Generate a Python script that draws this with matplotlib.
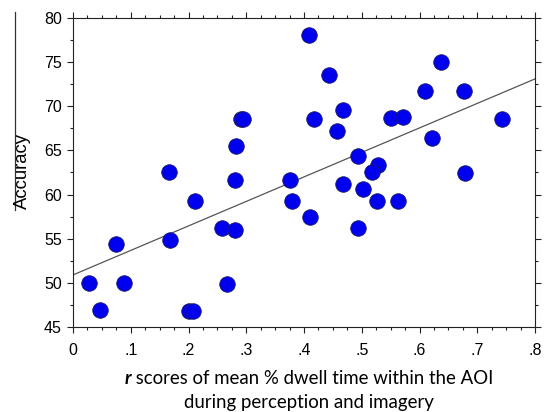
import numpy as np
import matplotlib
matplotlib.use("Agg")
import matplotlib.pyplot as plt
from matplotlib.ticker import MultipleLocator, FixedLocator, FixedFormatter

plt.rcParams["font.family"] = ["Liberation Sans", "DejaVu Sans"]

# r scores (x) and accuracy (y)
r_scores = [0.028, 0.047, 0.075, 0.088, 0.166, 0.168, 0.211, 0.200, 0.208,
            0.258, 0.280, 0.266, 0.280, 0.283, 0.291, 0.295,
            0.408, 0.444, 0.418, 0.468, 0.457, 0.493, 0.528, 0.518,
            0.375, 0.468, 0.502, 0.551, 0.571, 0.609, 0.638, 0.677,
            0.622, 0.679, 0.743, 0.380, 0.411, 0.493, 0.526, 0.563]
accuracy = [50.0, 46.9, 54.4, 50.0, 62.5, 54.8, 59.3, 46.8, 46.8,
            56.2, 56.0, 49.9, 61.7, 65.5, 68.6, 68.6,
            78.1, 73.5, 68.6, 69.6, 67.2, 64.4, 63.3, 62.5,
            61.7, 61.2, 60.6, 68.7, 68.8, 71.7, 75.0, 71.7,
            66.4, 62.4, 68.6, 59.3, 57.5, 56.2, 59.3, 59.3]

# fitted line as drawn (intercept, slope)
fit_intercept = 50.9
fit_slope = 27.75

x_ticks = [0, 0.1, 0.2, 0.3, 0.4, 0.5, 0.6, 0.7, 0.8]
x_ticklabels = ["0", ".1", ".2", ".3", ".4", ".5", ".6", ".7", ".8"]
y_ticks = [45, 50, 55, 60, 65, 70, 75, 80]

fig = plt.figure(figsize=(5.49, 4.12), dpi=100)
ax = fig.add_axes([73 / 549, 1 - 327 / 412, (535 - 73) / 549, (327 - 18) / 412])

xs = np.array([0, 0.8])
ax.plot(xs, fit_intercept + fit_slope * xs, color="#555555", lw=0.9, zorder=2)
ax.scatter(r_scores, accuracy, s=125, c="#0000ee", edgecolors="#1a1a66",
           linewidths=0.6, zorder=3)

ax.set_xlim(0, 0.8)
ax.set_ylim(45, 80)
ax.xaxis.set_major_locator(FixedLocator(x_ticks))
ax.xaxis.set_major_formatter(FixedFormatter(x_ticklabels))
ax.xaxis.set_minor_locator(MultipleLocator(0.025))
ax.yaxis.set_major_locator(FixedLocator(y_ticks))
ax.yaxis.set_minor_locator(MultipleLocator(2.5))

for sp in ax.spines.values():
    sp.set_linewidth(0.8)
    sp.set_color("#222222")

ax.tick_params(which="both", direction="out", top=True, right=True,
               labeltop=False, labelright=False, color="#222222", width=0.8,
               labelsize=11.5)
ax.tick_params(which="major", length=4)
ax.tick_params(which="minor", length=2.4)
ax.tick_params(axis="x", which="major", pad=7.5)
ax.tick_params(axis="y", which="major", pad=4)

# y label with the bar next to it
fig.text(22 / 549, 1 - 171 / 412, "Accuracy", rotation=90, ha="center", va="center",
         fontsize=13.3)
fig.add_artist(plt.Line2D([15 / 549, 15 / 549], [1 - 12 / 412, 1 - 210 / 412],
                          color="#333333", lw=0.9))

# two-line x label, first word bold italic
fig.canvas.draw()
renderer = fig.canvas.get_renderer()
y1 = 1 - 384 / 412
t_r = fig.text(0, y1, "r", fontsize=13.4, family="Lato", weight="bold",
               style="italic", va="baseline")
t_rest = fig.text(0, y1, " scores of mean % dwell time within the AOI", fontsize=13.4,
                  family="Lato", va="baseline")
w_r = t_r.get_window_extent(renderer).width
w_rest = t_rest.get_window_extent(renderer).width
cx = 309
x0 = cx - (w_r + w_rest) / 2
t_r.set_x(x0 / 549)
t_rest.set_x((x0 + w_r) / 549)
fig.text(cx / 549, 1 - 408 / 412, "during perception and imagery", fontsize=13.4,
         family="Lato", ha="center", va="baseline")

fig.savefig("out.png", dpi=100)
